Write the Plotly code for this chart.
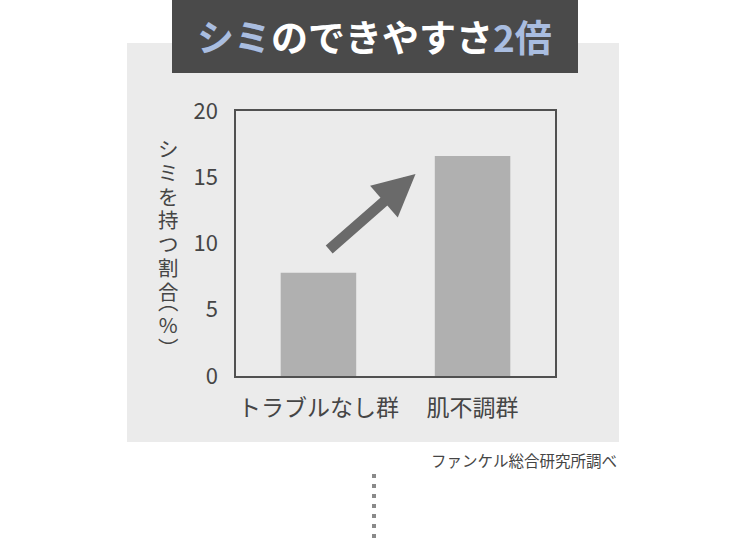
import plotly.graph_objects as go

"""
シミのできやすさ2倍 - bar chart
"""

groups = ['トラブルなし群', '肌不調群']
spot_rates = [7.8, 16.6]
y_ticks = [0, 5, 10, 15, 20]
y_title_main = ['シ', 'ミ', 'を', '持', 'つ', '割', '合']
y_title_unit = ['︵', '%', '︶']

W, H = 750, 540
# plot area in pixels
L, R, T, B = 236, 555, 111, 376


def px(x):
    return (x - L) / (R - L)


def py(y):
    return (B - y) / (B - T)


def stacked(chars, size):
    # vertical text: one glyph per line, glyph size set inside the span
    return '<br>'.join(f'<span style="font-size:{size}px">{c}</span>' for c in chars)


FONT = 'Noto Sans CJK JP'
TEXT = '#454545'

fig = go.Figure()

fig.add_trace(go.Bar(
    x=groups,
    y=spot_rates,
    width=0.49,
    marker=dict(color='#b0b0b0', line=dict(width=0)),
    hovertemplate="%{x}: %{y}%<extra></extra>"
))

# gray panel + title box
fig.add_shape(type='rect', xref='paper', yref='paper', layer='below',
              x0=px(127), x1=px(619), y0=py(442), y1=py(43),
              fillcolor='#ebebeb', line=dict(width=0))
fig.add_shape(type='rect', xref='paper', yref='paper', layer='below',
              x0=px(172), x1=px(578), y0=py(73), y1=py(-2),
              fillcolor='#4a4a4a', line=dict(width=0))

# dotted connector below
fig.add_shape(type='line', xref='paper', yref='paper',
              x0=px(374), x1=px(374), y0=py(474), y1=py(542),
              line=dict(color='#8a8a8a', width=4, dash='4px,6px'))

fig.add_annotation(
    text='<b><span style="color:#a9bde0">シミ</span>のできやすさ'
         '<span style="color:#a9bde0">2倍</span></b>',
    xref='paper', yref='paper', x=px(374), y=py(36),
    xanchor='center', yanchor='middle', showarrow=False,
    font=dict(family=FONT, size=37, color='white')
)

# vertical y-axis title (line spacing comes from the outer font size)
fig.add_annotation(
    text=stacked(y_title_main, 20.5),
    xref='paper', yref='paper', x=px(168), y=py(219.5),
    xanchor='center', yanchor='middle', showarrow=False,
    font=dict(family=FONT, size=18.3, color=TEXT)
)
fig.add_annotation(
    text=stacked(y_title_unit, 20.5),
    xref='paper', yref='paper', x=px(168), y=py(324),
    xanchor='center', yanchor='middle', showarrow=False,
    font=dict(family=FONT, size=17.7, color=TEXT)
)

# arrow between bars
fig.add_annotation(
    x=0.63, y=15.25, ax=0.06, ay=9.45,
    xref='x', yref='y', axref='x', ayref='y',
    text='', showarrow=True,
    arrowhead=2, arrowsize=0.8, arrowwidth=10.5, arrowcolor='#6a6a6a'
)

fig.add_annotation(
    text='ファンケル総合研究所調べ',
    xref='paper', yref='paper', x=px(619), y=py(460),
    xanchor='right', yanchor='middle', showarrow=False,
    font=dict(family=FONT, size=15.5, color=TEXT)
)

fig.update_layout(
    width=W, height=H,
    margin=dict(l=L, r=W - R, t=T, b=H - B, pad=0),
    paper_bgcolor='white',
    plot_bgcolor='rgba(0,0,0,0)',
    showlegend=False,
    font=dict(family=FONT, color=TEXT),
    bargap=0.5
)

fig.update_xaxes(range=[-0.535, 1.535], showgrid=False, zeroline=False,
                 showline=True, mirror=True, linecolor='#505050', linewidth=1.5,
                 ticks='', ticklabelstandoff=11,
                 tickfont=dict(family=FONT, size=23, color=TEXT))
fig.update_yaxes(range=[0, 20], tickvals=y_ticks, showgrid=False, zeroline=False,
                 showline=True, mirror=True, linecolor='#505050', linewidth=1.5,
                 ticks='', ticklabelstandoff=12,
                 tickfont=dict(family=FONT, size=22, color=TEXT))

# page body has a default margin; drop it so the figure sits at 0,0
fig.write_html("out.html", config={'displayModeBar': False},
               post_script="document.body.style.margin='0';")
